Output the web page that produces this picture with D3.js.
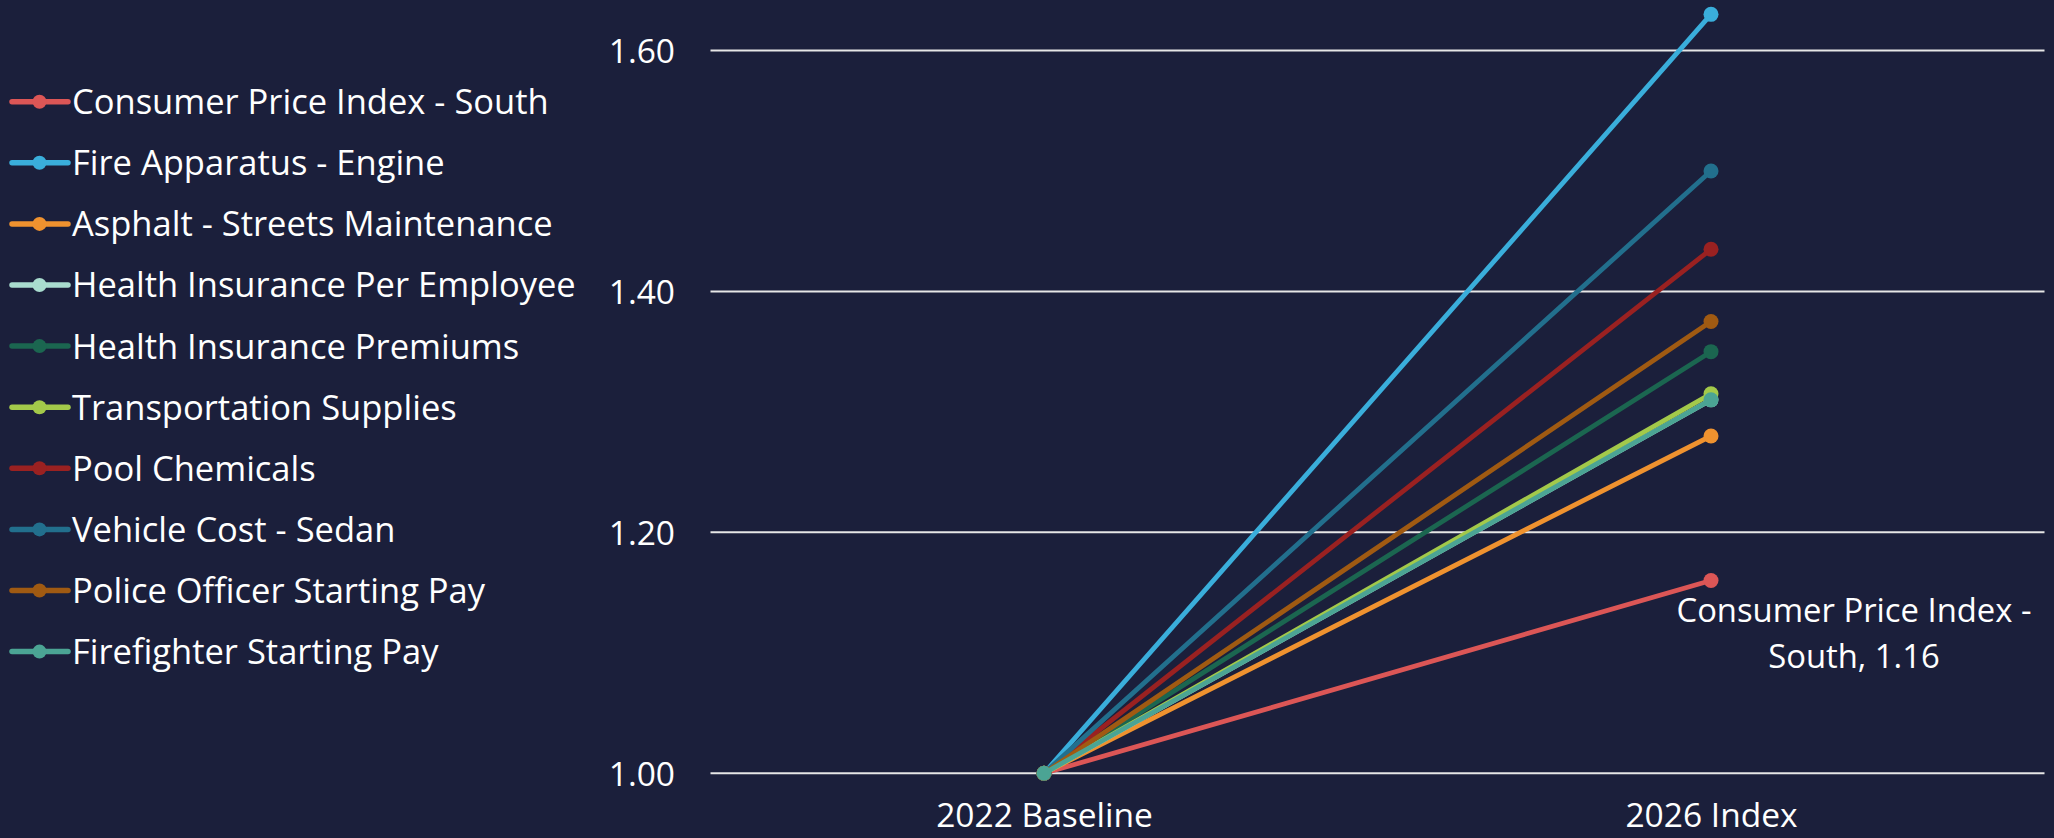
<!DOCTYPE html>
<html>
<head>
<meta charset="utf-8">
<script src="https://cdn.jsdelivr.net/npm/d3@7"></script>
<style>
  html, body { margin: 0; padding: 0; background: #1b1f3b; }
  svg { display: block; }
  text { font-family: "Open Sans", Roboto, sans-serif; fill: #ffffff; }
</style>
</head>
<body>
<svg id="chart" width="2054" height="838"></svg>
<script>
const categories = ["2022 Baseline", "2026 Index"];
const seriesNames = [
  "Consumer Price Index - South",
  "Fire Apparatus - Engine",
  "Asphalt - Streets Maintenance",
  "Health Insurance Per Employee",
  "Health Insurance Premiums",
  "Transportation Supplies",
  "Pool Chemicals",
  "Vehicle Cost - Sedan",
  "Police Officer Starting Pay",
  "Firefighter Starting Pay"
];
const baselineValues = [1.00, 1.00, 1.00, 1.00, 1.00, 1.00, 1.00, 1.00, 1.00, 1.00];
const indexValues    = [1.16, 1.63, 1.28, 1.31, 1.35, 1.315, 1.435, 1.50, 1.375, 1.31];
const seriesColors = ["#dc5656", "#3aaedb", "#ef922f", "#a9dccf", "#1b6650",
                      "#a3c94a", "#9a2121", "#226f8d", "#a05a12", "#4ba494"];
const yTicks = [1.00, 1.20, 1.40, 1.60];
const labelledSeries = "Consumer Price Index - South";

const FONT = "'Open Sans', Roboto, sans-serif";
const svg = d3.select("#chart");
const W = 2054, H = 838;
svg.append("rect").attr("width", W).attr("height", H).attr("fill", "#1b1f3b");

const x = d3.scalePoint().domain(categories).range([710.5, 2044.5]).padding(0.5);
const y = d3.scaleLinear().domain([1.0, 1.6]).range([773.3, 50.5]);

// gridlines
const grid = svg.append("g");
grid.selectAll("line").data(yTicks).join("line")
  .attr("x1", 710.5).attr("x2", 2044.5)
  .attr("y1", d => y(d)).attr("y2", d => y(d))
  .attr("stroke", "#e6e6e6").attr("stroke-width", 2);

// y axis labels
const yAxis = d3.axisLeft(y).tickValues(yTicks).tickFormat(d3.format(".2f")).tickSize(0).tickPadding(0);
const yg = svg.append("g").attr("transform", "translate(675,0)").call(yAxis);
yg.select(".domain").remove();
yg.selectAll("text").attr("font-size", 33.5).attr("fill", "#ffffff")
  .attr("font-family", FONT).attr("dy", "0.36em");

// x axis labels
const xAxis = d3.axisBottom(x).tickSize(0).tickPadding(0);
const xg = svg.append("g").attr("transform", "translate(0,800)").call(xAxis);
xg.select(".domain").remove();
xg.selectAll("text").attr("font-size", 33.5).attr("fill", "#ffffff")
  .attr("font-family", FONT).attr("dy", "0.8em");

// series
const series = seriesNames.map((name, i) => ({
  name, color: seriesColors[i],
  values: [baselineValues[i], indexValues[i]].map((v, j) => ({cat: categories[j], v}))
}));

const line = d3.line().x(d => x(d.cat)).y(d => y(d.v));
const sg = svg.append("g").selectAll("g").data(series).join("g");
sg.append("path")
  .attr("d", d => line(d.values))
  .attr("fill", "none").attr("stroke", d => d.color)
  .attr("stroke-width", 4.8).attr("stroke-linecap", "round");
sg.selectAll("circle").data(d => d.values.map(v => ({...v, color: d.color}))).join("circle")
  .attr("cx", d => x(d.cat)).attr("cy", d => y(d.v)).attr("r", 7.5)
  .attr("fill", d => d.color);

// data label
const ls = series.find(s => s.name === labelledSeries);
const lp = ls.values[1];
const lab = svg.append("text").attr("text-anchor", "middle").attr("font-size", 32.8)
  .attr("x", x(lp.cat) + 143).attr("y", y(lp.v) + 41);
lab.append("tspan").attr("x", x(lp.cat) + 143).text("Consumer Price Index -");
lab.append("tspan").attr("x", x(lp.cat) + 143).attr("dy", 46).text("South, " + d3.format(".2f")(lp.v));

// legend
const leg = svg.append("g").selectAll("g").data(series).join("g")
  .attr("transform", (d, i) => `translate(0,${101.7 + i * 61.1})`);
leg.append("line").attr("x1", 12).attr("x2", 68).attr("y1", 0).attr("y2", 0)
  .attr("stroke", d => d.color).attr("stroke-width", 5.5).attr("stroke-linecap", "round");
leg.append("circle").attr("cx", 39.5).attr("cy", 0).attr("r", 7).attr("fill", d => d.color);
leg.append("text").attr("x", 72).attr("y", 0).attr("dy", "0.36em")
  .attr("font-size", 34.5).text(d => d.name);
</script>
</body>
</html>
